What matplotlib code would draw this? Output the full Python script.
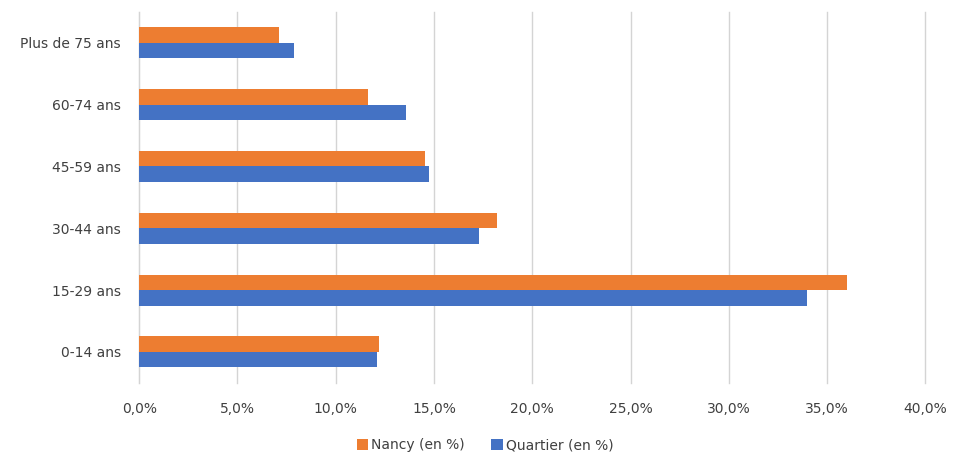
import matplotlib
matplotlib.use("Agg")
from matplotlib import pyplot as plt
import numpy as np

plt.rcParams['font.family'] = ['DejaVu Sans']

categories = ['0-14 ans', '15-29 ans', '30-44 ans', '45-59 ans', '60-74 ans', 'Plus de 75 ans']
nancy = [12.2, 36.0, 18.2, 14.55, 11.65, 7.1]
quartier = [12.1, 34.0, 17.3, 14.75, 13.6, 7.9]
xticks = [0, 5, 10, 15, 20, 25, 30, 35, 40]

fig = plt.figure(figsize=(9.73, 4.75), dpi=100)
ax = fig.add_axes([0.143, 0.194, 0.808, 0.781])

y = np.arange(len(categories))
h = 0.25
ax.barh(y + h / 2, nancy, height=h, color='#ED7D31', label='Nancy (en %)', zorder=3)
ax.barh(y - h / 2, quartier, height=h, color='#4472C4', label='Quartier (en %)', zorder=3)

ax.set_xlim(0, 40)
ax.set_ylim(-0.5, len(categories) - 0.5)
ax.set_xticks(xticks)
ax.set_xticklabels([f"{v:.1f}%".replace('.', ',') for v in xticks])
ax.set_yticks(y)
ax.set_yticklabels(categories)
ax.tick_params(length=0, labelsize=10, colors='#404040')
ax.tick_params(axis='y', pad=13)
ax.tick_params(axis='x', pad=14)
ax.xaxis.grid(True, color='#d4d4d4', linewidth=1, zorder=0)
for gl in ax.get_xgridlines():
    gl.set_clip_on(False)
for s in ['top', 'right', 'bottom']:
    ax.spines[s].set_visible(False)
ax.spines['left'].set_color('#d4d4d4')

fig.legend(loc='center', bbox_to_anchor=(0.4985, 0.063), ncol=2, frameon=False,
           fontsize=10, handlelength=0.85, handleheight=0.85, handletextpad=0.2,
           columnspacing=1.9, labelcolor='#404040')

fig.savefig('out.png', dpi=100)
